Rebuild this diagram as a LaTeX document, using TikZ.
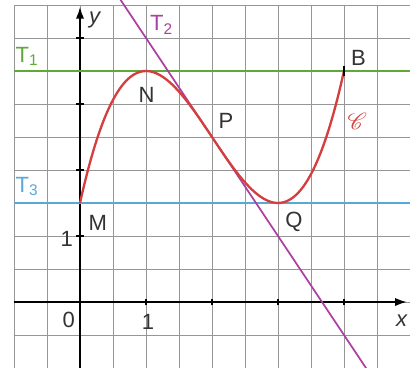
\documentclass[tikz,border=0pt]{standalone}
\usepackage{mathrsfs}
\usepackage{fontspec}
\setmainfont{Liberation Sans}
\usetikzlibrary{arrows.meta}
\definecolor{gridgray}{RGB}{150,150,150}
\definecolor{curvered}{RGB}{212,62,62}
\definecolor{tgreen}{RGB}{96,168,56}
\definecolor{tblue}{RGB}{88,168,218}
\definecolor{tpurple}{RGB}{172,64,160}
\tikzset{
  lbl/.style={inner sep=0pt, font=\fontsize{9.5}{11}\selectfont, text=black!80},
  tlbl/.style={inner sep=0pt, font=\fontsize{9.5}{11}\selectfont},
  axis/.style={line width=0.6pt, -{Latex[length=5pt,width=3.5pt]}},
  tangent/.style={line width=0.75pt},
}
\begin{document}
\begin{tikzpicture}[x=1cm,y=1cm]
\useasboundingbox (-1.212,-0.985) rectangle (5,4.576);
\fill[white] (-1.212,-0.985) rectangle (5,4.576);
\begin{scope}
\clip (-1.212,-0.985) rectangle (5,4.576);
\draw[gridgray, line width=0.4pt] (-1,-1) grid[step=0.5] (5.5,4.5);
% axes
\coordinate (xs) at (-1,0);
\coordinate (xe) at (4.95,0);
\coordinate (ys) at (0,-1.1);
\coordinate (ye) at (0,4.47);
\draw[axis] (xs) -- (xe);
\draw[axis] (ys) -- (ye);
\foreach \t in {1,2,3,4} {
  \draw[line width=0.5pt] (\t,-0.05) -- (\t,0.05);
  \draw[line width=0.5pt] (-0.06,\t) -- (0.06,\t);
}
% tangents
\coordinate (t1s) at (-1,3.5);
\coordinate (t1e) at (5,3.5);
\coordinate (t3s) at (-1,1.5);
\coordinate (t3e) at (5,1.5);
\coordinate (t2s) at ({(5.5-4.7)/1.5},4.7);
\coordinate (t2e) at ({(5.5+1.1)/1.5},-1.1);
\draw[tangent, tgreen] (t1s) -- (t1e);
\draw[tangent, tblue] (t3s) -- (t3e);
\draw[tangent, tpurple] (t2s) -- (t2e);
% curve
\draw[curvered, line width=1pt, domain=0:4, samples=80, smooth]
  plot (\x,{0.5*\x*\x*\x-3*\x*\x+4.5*\x+1.5});
\draw[line width=0.6pt] (4,3.43) -- (4,3.57);
\end{scope}
% labels
\node[lbl] (N) at (1.01,3.14) {N};
\node[lbl] (P) at (2.21,2.75) {P};
\node[lbl] (M) at (0.27,1.2) {M};
\node[lbl] (Q) at (3.24,1.21) {Q};
\node[lbl] (B) at (4.22,3.70) {B};
\node[tlbl, text=tgreen] (T1) at (-0.8,3.72) {T\textsubscript{1}};
\node[tlbl, text=tpurple] (T2) at (1.24,4.2) {T\textsubscript{2}};
\node[tlbl, text=tblue] (T3) at (-0.8,1.75) {T\textsubscript{3}};
\node[inner sep=0pt, text=curvered, font=\normalsize] (C) at (4.2,2.73) {$\mathscr{C}$};
\node[lbl] (ylab) at (0.23,4.27) {\textit{y}};
\node[lbl] (xlab) at (4.88,-0.29) {\textit{x}};
\node[lbl] (o) at (-0.17,-0.27) {0};
\node[lbl] (x1) at (1.03,-0.3) {1};
\node[lbl] (y1) at (-0.2,0.95) {1};
\end{tikzpicture}
\end{document}
